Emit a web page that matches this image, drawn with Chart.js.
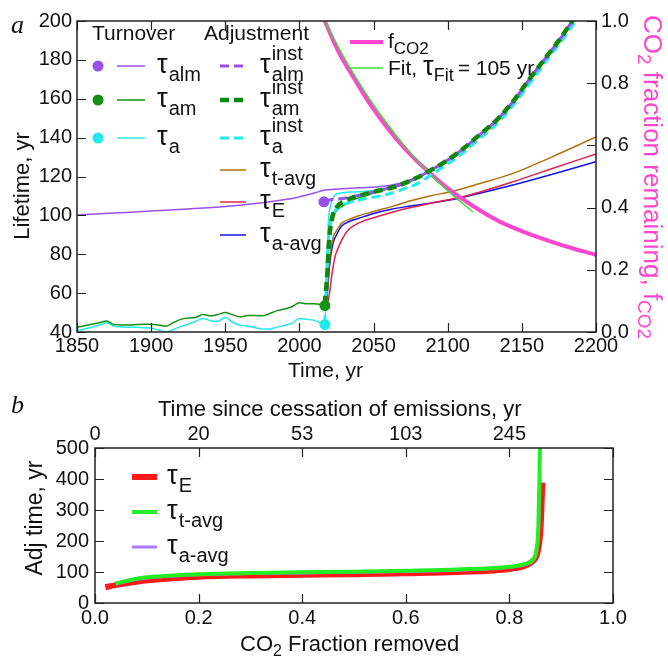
<!DOCTYPE html>
<html>
<head>
<meta charset="utf-8">
<script src="https://cdn.jsdelivr.net/npm/chart.js@4.4.1/dist/chart.umd.min.js"></script>
<style>
  body { margin: 0; background: #fff; }
  canvas { display: block; }
</style>
</head>
<body>
<canvas id="lifetime" width="668" height="390"></canvas>
<canvas id="adjust" width="668" height="266"></canvas>
<script>
const SANS = "'Liberation Sans', Arial, Helvetica, sans-serif";
const SERIF = "'Liberation Serif', 'Times New Roman', serif";

// ---------- panel a: lifetimes (yr) against calendar year ----------
const histYears = [1850, 1855, 1860, 1865, 1870, 1875, 1880, 1885, 1890, 1895, 1900, 1905, 1910, 1915, 1920, 1925, 1930,
  1935, 1940, 1945, 1950, 1955, 1960, 1965, 1970, 1975, 1980, 1985, 1990, 1995, 2000, 2005, 2010, 2017];
const tauAmHist = [42.5, 43.2, 44.0, 44.8, 45.6, 43.8, 43.6, 43.6, 43.8, 44.0, 44.0, 43.6, 43.0, 44.8, 46.5, 47.2, 47.5,
  49.0, 48.3, 49.0, 50.0, 48.8, 47.8, 48.5, 48.5, 48.3, 49.5, 51.0, 51.8, 53.0, 55.0, 54.5, 54.5, 54.0];
const tauAHist = [40.8, 41.5, 42.5, 43.5, 44.8, 43.0, 42.6, 42.4, 42.5, 42.2, 42.0, 41.0, 40.0, 41.3, 42.8, 44.0, 45.5,
  47.0, 45.8, 45.5, 47.5, 45.0, 43.5, 43.0, 42.3, 41.5, 41.6, 42.5, 43.5, 44.5, 47.0, 46.5, 46.0, 44.0];

// atmosphere+land+mixed layer turnover, whole record
const almYears = [1850, 1875, 1900, 1925, 1950, 1975, 2000, 2010, 2017, 2026, 2040, 2057, 2068, 2077];
const tauAlm = [100.2, 101.2, 102.2, 103.3, 104.6, 106.5, 109.5, 111.5, 113.0, 113.6, 114.2, 115.0, 116.5, 119.0];

// after emissions stop the turnover times rise onto one shared curve
const amRiseYears = [2018, 2019, 2020.6, 2022, 2024, 2027.5, 2035, 2050, 2070];
const amRise = [62, 78, 94, 99, 101.5, 104, 107.5, 111.5, 116.5];
const aRiseYears = [2018.5, 2019.5, 2021, 2023, 2026, 2035, 2057, 2075];
const aRise = [70, 96, 105, 109.5, 111.3, 112, 113.5, 117.3];
const tailYears = [2087, 2100, 2110, 2120, 2133, 2145, 2155, 2167, 2176, 2184, 2192];
const tailTau = [122.5, 128.5, 134, 140.5, 149, 159.5, 170, 182, 191, 200, 209];

// instantaneous adjustment times
const almInstYears = [2017, 2021, 2029, 2041, 2055, 2071];
const almInst = [107, 108, 108.7, 110.5, 113, 116.5];
const amInstYears = [2017, 2018.8, 2020, 2021.7, 2025, 2030.7, 2040, 2050, 2066.5, 2078];
const amInst = [54, 70, 87, 97.5, 104, 107.5, 110, 112, 115.3, 119];
const aInstYears = [2017, 2019, 2021, 2023, 2026, 2035, 2045, 2057.5, 2070, 2080, 2090, 2100, 2110, 2120, 2133, 2145,
  2155, 2167, 2176, 2184, 2192];
const aInst = [44, 80, 96, 101, 103.6, 107, 108.7, 110.5, 113.5, 116.5, 121.5, 126.5, 132, 138.5, 147, 157.5,
  167.5, 180, 189, 197.5, 206];

// averaged adjustment times
const tavgYears = [2017, 2018.4, 2019.5, 2020.6, 2022.8, 2025, 2028.5, 2034, 2040, 2050, 2062, 2075, 2088, 2101, 2120,
  2144, 2170, 2200];
const tauTavg = [54, 57, 70, 79, 89, 92, 96, 98, 99.8, 102, 104.5, 107.5, 110, 112, 116, 121.6, 130, 140.3];
const eYears = [2017, 2019, 2020.5, 2021.7, 2024, 2026, 2028.5, 2033, 2042, 2050, 2062, 2075, 2090, 2110, 2144, 2170, 2200];
const tauE = [53, 55, 61, 68.5, 78.7, 83, 87.3, 92.5, 96.8, 98.8, 101.5, 104, 106.5, 109.6, 117.3, 124, 131.6];
const aavgYears = [2017, 2018.5, 2019.5, 2020.6, 2022.8, 2025, 2028.5, 2034, 2040, 2050, 2062, 2075, 2088, 2106, 2125,
  2144, 2170, 2200];
const tauAavg = [54, 57, 67, 76, 86, 90, 94.5, 97, 98.5, 101, 103.2, 104.8, 106.3, 108.6, 112, 115.6, 121, 127.6];

// starting values at the cessation year
const dotYears = [2016.5, 2017.2, 2017.2];
const dotTau = [107, 53.6, 43.8];

// fraction of CO2 still airborne (right axis) and its e-folding fit
const fYears = [2017, 2027, 2036, 2048, 2060, 2072, 2087, 2100, 2117, 2135, 2158, 2180, 2200];
const fCO2 = [1.0, 0.895, 0.822, 0.73, 0.652, 0.585, 0.515, 0.462, 0.405, 0.355, 0.31, 0.275, 0.248];
const fitYears = [2017, 2027, 2036, 2048, 2060, 2072, 2087, 2100, 2117];
const fitCO2 = [1.0, 0.909, 0.834, 0.744, 0.664, 0.592, 0.513, 0.454, 0.386];

// ---------- panel b: adjustment time against fraction removed ----------
const fracE = [0.02, 0.05, 0.1, 0.15, 0.2, 0.3, 0.4, 0.5, 0.6, 0.7, 0.8, 0.83, 0.845, 0.853, 0.858, 0.861, 0.8635];
const adjE = [51, 61, 73, 80, 85, 89, 91, 93, 96, 100, 110, 120, 135, 155, 200, 270, 388];
const fracT = [0.04, 0.07, 0.1, 0.15, 0.2, 0.3, 0.4, 0.5, 0.6, 0.7, 0.8, 0.83, 0.845, 0.852, 0.856, 0.858, 0.859];
const adjT = [63, 75, 83, 89, 93, 97, 99, 101, 104, 108, 117, 126, 140, 170, 250, 400, 520];
const fracA = [0.04, 0.07, 0.1, 0.15, 0.2, 0.3, 0.4, 0.5, 0.6, 0.7, 0.8, 0.83, 0.845, 0.853, 0.857, 0.859];
const adjA = [61, 73, 81, 87, 91, 95, 97, 99, 102, 106, 115, 123, 136, 170, 260, 420];
const cessLabels = ['0', '20', '53', '103', '245'];

// line styles
const C = {
  alm: '#9a50ea', am: '#139213', a: '#22eaea', amInst: '#0c880c',
  tavg: '#b07010', E: '#e0204a', aavg: '#1212ee', f: '#ff46cf', fit: '#33e033',
  bE: '#ff1a1a', bT: '#22ee22', bA: '#aa77ff'
};
const DASH = [9, 5];

function pts(xs, ys) { return xs.map((x, i) => ({ x: x, y: ys[i] })); }
function line(data, color, width, dash, axis) {
  return {
    data: data, borderColor: color, borderWidth: width, borderDash: dash || [],
    pointRadius: 0, fill: false, cubicInterpolationMode: 'monotone',
    yAxisID: axis || 'y', clip: 0
  };
}

// inward tick marks and a closed frame round the plot area
function frame(mirrorX, mirrorY) {
  return {
    id: 'frame',
    afterDatasetsDraw(chart) {
      const { ctx, chartArea: a, scales } = chart;
      const T = 9;
      ctx.save();
      ctx.strokeStyle = '#222';
      ctx.lineWidth = 1.2;
      ctx.beginPath();
      for (const id in scales) {
        const s = scales[id];
        for (const t of s.ticks) {
          const p = Math.round(s.getPixelForValue(t.value)) + 0.5;
          if (s.isHorizontal()) {
            if (s.position === 'top' || mirrorX) { ctx.moveTo(p, a.top); ctx.lineTo(p, a.top + T); }
            if (s.position === 'bottom') { ctx.moveTo(p, a.bottom); ctx.lineTo(p, a.bottom - T); }
          } else {
            if (s.position === 'left') { ctx.moveTo(a.left, p); ctx.lineTo(a.left + T, p); }
            if (s.position === 'right' || (mirrorY && s.position === 'left')) { ctx.moveTo(a.right, p); ctx.lineTo(a.right - T, p); }
          }
        }
      }
      ctx.stroke();
      ctx.lineWidth = 1.5;
      ctx.strokeRect(a.left, a.top, a.right - a.left, a.bottom - a.top);
      ctx.restore();
    }
  };
}

// text pieces drawn left to right: [text, size, baseline shift]
function runs(ctx, x, y, pieces) {
  for (const [t, size, dy = 0] of pieces) {
    ctx.font = size + 'px ' + SANS;
    ctx.fillText(t, x, y + dy);
    x += ctx.measureText(t).width;
  }
  return x;
}
function runsWidth(ctx, pieces) {
  let w = 0;
  for (const [t, size] of pieces) {
    ctx.font = size + 'px ' + SANS;
    w += ctx.measureText(t).width;
  }
  return w;
}
function rotated(ctx, x, y, angle, pieces, center) {
  ctx.save();
  ctx.translate(x, y);
  ctx.rotate(angle);
  runs(ctx, center ? -runsWidth(ctx, pieces) / 2 : 0, 0, pieces);
  ctx.restore();
}
// tau with a subscript and optional superscript stacked after it
function tau(ctx, x, y, sub, sup) {
  ctx.font = '27px ' + SANS;
  ctx.fillText('τ', x, y);
  x += ctx.measureText('τ').width + 1;
  ctx.font = '20px ' + SANS;
  let w = ctx.measureText(sub).width;
  ctx.fillText(sub, x, y + 8);
  if (sup) {
    ctx.fillText(sup, x, y - 13);
    w = Math.max(w, ctx.measureText(sup).width);
  }
  return x + w;
}
function segment(ctx, x0, x1, y, color, width, dash) {
  ctx.save();
  ctx.strokeStyle = color;
  ctx.lineWidth = width;
  ctx.setLineDash(dash || []);
  ctx.beginPath();
  ctx.moveTo(x0, y);
  ctx.lineTo(x1, y);
  ctx.stroke();
  ctx.restore();
}
function dot(ctx, x, y, color) {
  ctx.fillStyle = color;
  ctx.beginPath();
  ctx.arc(x, y, 5.5, 0, Math.PI * 2);
  ctx.fill();
}

const textA = {
  id: 'textA',
  afterDraw(chart) {
    const ctx = chart.ctx;
    ctx.save();
    ctx.fillStyle = '#111';
    ctx.textBaseline = 'alphabetic';
    ctx.font = 'italic 26px ' + SERIF;
    ctx.fillText('a', 11, 33);
    runs(ctx, 288, 377, [['Time, yr', 21]]);
    rotated(ctx, 29, 186, -Math.PI / 2, [['Lifetime, yr', 22]], true);
    ctx.fillStyle = C.f;
    rotated(ctx, 644, 15, Math.PI / 2, [['CO', 26], ['2', 19, 6], [' fraction remaining, f', 26], ['CO2', 19, 6]], false);

    // legend: turnover and adjustment columns
    ctx.fillStyle = '#111';
    runs(ctx, 92, 40, [['Turnover', 21]]);
    runs(ctx, 204, 40, [['Adjustment', 21]]);
    const rows = [66, 100, 138, 170, 202, 235];
    const turn = [[C.alm, 'alm'], [C.am, 'am'], [C.a, 'a']];
    turn.forEach(([col, sub], i) => {
      dot(ctx, 98, rows[i], col);
      segment(ctx, 117, 145, rows[i], col, 1.5);
      ctx.fillStyle = '#111';
      tau(ctx, 157, rows[i] + 7, sub);
    });
    const adj = [
      [C.alm, 3, DASH, 'alm', 'inst'], [C.amInst, 4.5, DASH, 'am', 'inst'], [C.a, 3, DASH, 'a', 'inst'],
      [C.tavg, 1.5, null, 't-avg'], [C.E, 1.5, null, 'E'], [C.aavg, 1.5, null, 'a-avg']
    ];
    adj.forEach(([col, w, dash, sub, sup], i) => {
      segment(ctx, 220, 246, rows[i], col, w, dash);
      ctx.fillStyle = '#111';
      tau(ctx, 260, rows[i] + 7, sub, sup);
    });

    // legend: airborne fraction and fit
    segment(ctx, 350, 383, 42, C.f, 4);
    runs(ctx, 388, 48, [['f', 21], ['CO2', 17, 6]]);
    segment(ctx, 350, 383, 68, C.fit, 1.5);
    let x = runs(ctx, 388, 75, [['Fit, ', 21]]);
    ctx.font = '27px ' + SANS;
    ctx.fillText('τ', x, 75);
    x += ctx.measureText('τ').width;
    x = runs(ctx, x, 75, [['Fit', 18, 6]]);
    runs(ctx, x + 4, 75, [['= 105 yr', 21]]);
    ctx.restore();
  }
};

const textB = {
  id: 'textB',
  afterDraw(chart) {
    const ctx = chart.ctx;
    ctx.save();
    ctx.fillStyle = '#111';
    ctx.font = 'italic 26px ' + SERIF;
    ctx.fillText('b', 11, 23);
    runs(ctx, 158, 26, [['Time since cessation of emissions, yr', 22]]);
    runs(ctx, 240, 261, [['CO', 22], ['2', 16, 5], [' Fraction removed', 22]]);
    rotated(ctx, 42, 128, -Math.PI / 2, [['Adj time, yr', 23]], true);

    const rows = [[C.bE, 6, 'E'], [C.bT, 4, 't-avg'], [C.bA, 3, 'a-avg']];
    rows.forEach(([col, w, sub], i) => {
      const y = 87 + i * 35;
      segment(ctx, 132, 157, y, col, w);
      ctx.fillStyle = '#111';
      tau(ctx, 167, y + 7, sub);
    });
    ctx.restore();
  }
};

Chart.defaults.font.family = SANS;
Chart.defaults.color = '#111';

function axis(min, max, step, fmt, pad, extra) {
  return Object.assign({
    type: 'linear', min: min, max: max,
    grid: { display: false, drawTicks: false },
    border: { display: false },
    ticks: {
      stepSize: step, autoSkip: false, maxRotation: 0, font: { size: 20 }, color: '#111',
      callback: fmt, padding: pad
    }
  }, extra);
}

new Chart(document.getElementById('lifetime'), {
  type: 'line',
  data: {
    datasets: [
      Object.assign(line(pts(dotYears, dotTau), C.alm, 0), {
        showLine: false, pointRadius: 5.5, pointBorderWidth: 0,
        pointBackgroundColor: [C.alm, C.am, C.a]
      }),
      line(pts(amInstYears.concat(tailYears), amInst.concat(tailTau)), C.amInst, 4.5, DASH),
      line(pts(almInstYears.concat(tailYears), almInst.concat(tailTau)), C.alm, 3, DASH),
      line(pts(aInstYears, aInst), C.a, 3, DASH),
      line(pts(histYears.concat(amRiseYears, tailYears), tauAmHist.concat(amRise, tailTau)), C.am, 1.5),
      line(pts(almYears.concat(tailYears), tauAlm.concat(tailTau)), C.alm, 1.5),
      line(pts(histYears.concat(aRiseYears, tailYears), tauAHist.concat(aRise, tailTau)), C.a, 1.5),
      line(pts(fitYears, fitCO2), C.fit, 1.5, null, 'y2'),
      line(pts(fYears, fCO2), C.f, 4, null, 'y2'),
      line(pts(tavgYears, tauTavg), C.tavg, 1.5),
      line(pts(eYears, tauE), C.E, 1.5),
      line(pts(aavgYears, tauAavg), C.aavg, 1.5)
    ]
  },
  options: {
    responsive: false, animation: false, devicePixelRatio: 1,
    layout: { padding: { top: 21, left: 0, right: 0, bottom: 0 } },
    plugins: { legend: { display: false }, tooltip: { enabled: false } },
    scales: {
      x: axis(1850, 2200, 50, v => String(v), 2, { position: 'bottom', afterFit: s => { s.height = 58; } }),
      y: axis(40, 200, 20, v => String(v), 5, { position: 'left', afterFit: s => { s.width = 77; } }),
      y2: axis(0, 1, 0.2, v => v.toFixed(1), 5, { position: 'right', afterFit: s => { s.width = 72; } })
    }
  },
  plugins: [frame(true, false), textA]
});

new Chart(document.getElementById('adjust'), {
  type: 'line',
  data: {
    datasets: [
      line(pts(fracT, adjT), C.bT, 4),
      line(pts(fracA, adjA), C.bA, 3),
      line(pts(fracE, adjE), C.bE, 6)
    ]
  },
  options: {
    responsive: false, animation: false, devicePixelRatio: 1,
    layout: { padding: { top: 0, left: 0, right: 55, bottom: 0 } },
    plugins: { legend: { display: false }, tooltip: { enabled: false } },
    scales: {
      x: axis(0, 1, 0.2, v => v.toFixed(1), 3, { position: 'bottom', afterFit: s => { s.height = 53; } }),
      x2: axis(0, 1, 0.2, (v, i) => cessLabels[i] || '', 2, { position: 'top', afterFit: s => { s.height = 58; } }),
      y: axis(0, 500, 100, v => String(v), 6, { position: 'left', afterFit: s => { s.width = 95; } })
    }
  },
  plugins: [frame(false, true), textB]
});
</script>
</body>
</html>
